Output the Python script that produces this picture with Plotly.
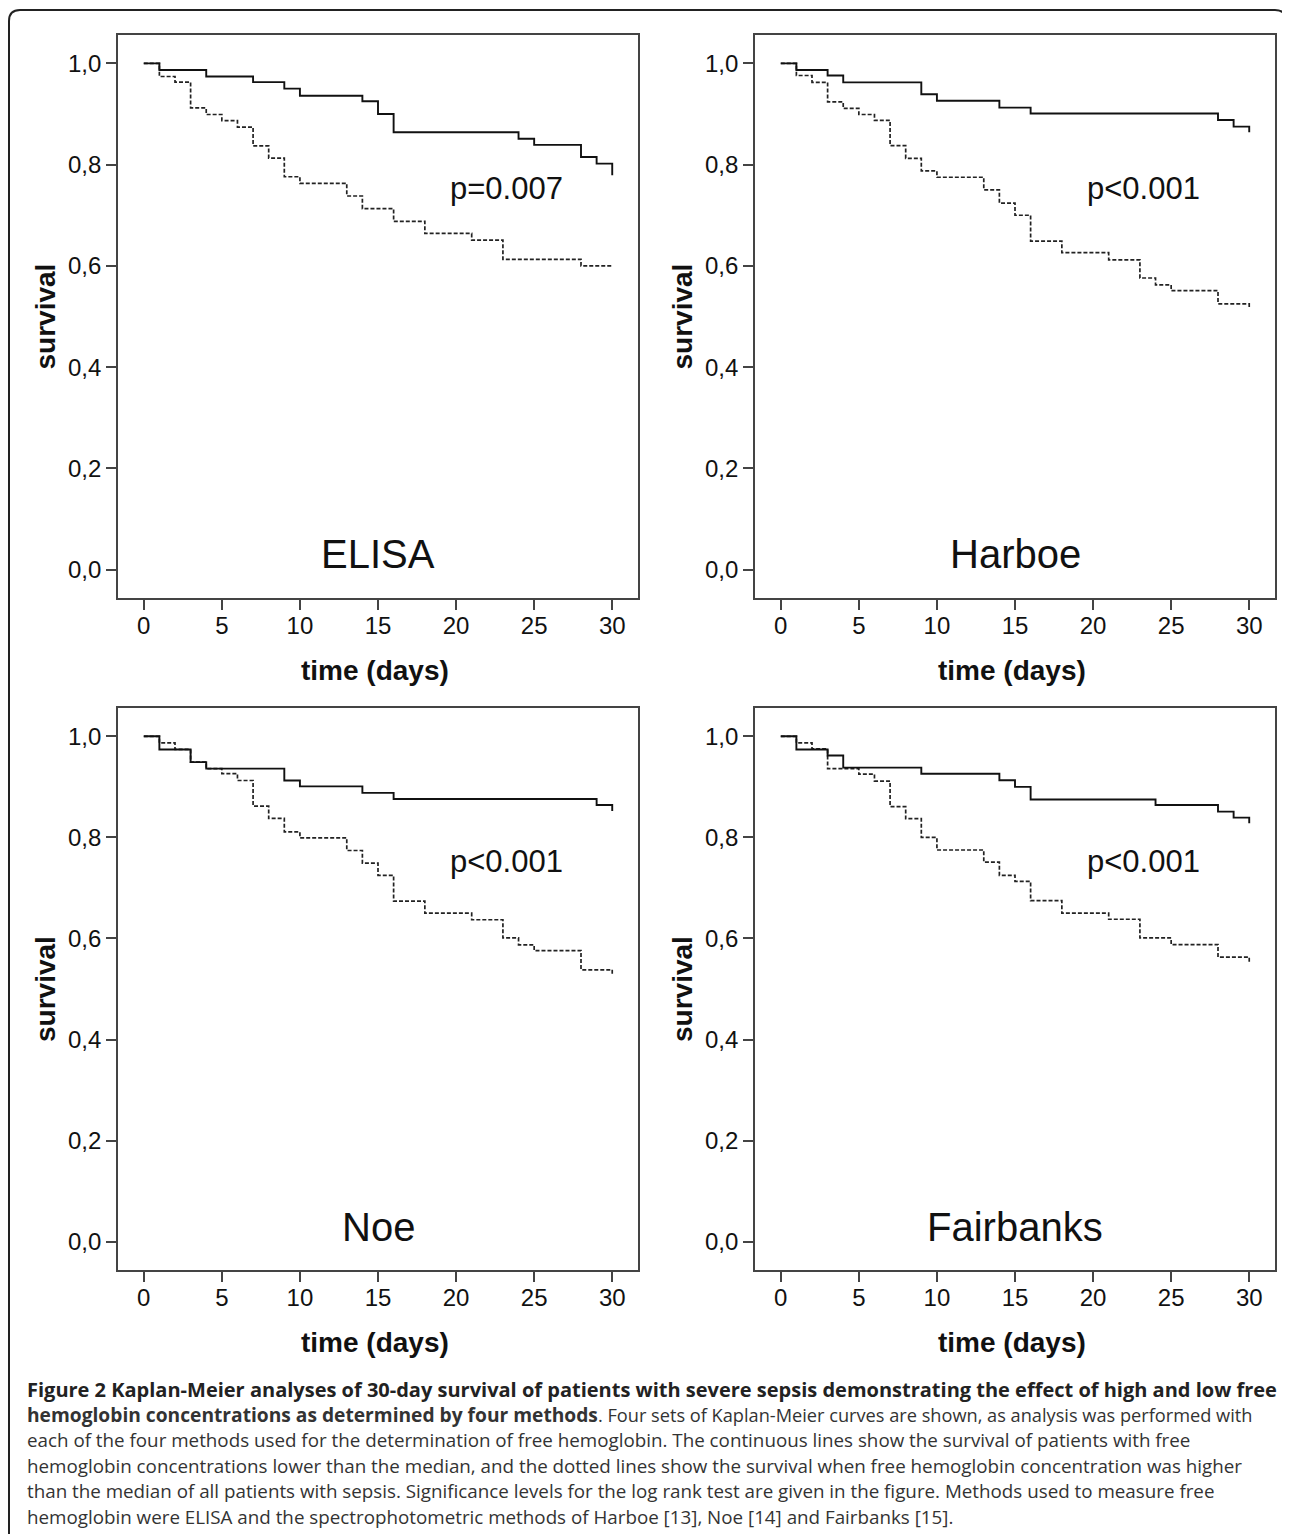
import plotly.graph_objects as go

# page offset introduced by the default HTML body margin
OFF = 8
FW, FH = 1290 - OFF, 1534 - OFF

# ---------------- data ----------------
methods = ["ELISA", "Harboe", "Noe", "Fairbanks"]
p_values = ["p=0.007", "p<0.001", "p<0.001", "p<0.001"]

elisa_low_t = [0, 1, 4, 7, 9, 10, 14, 15, 16, 24, 25, 28, 29, 30]
elisa_low_s = [1.0, 0.987, 0.974, 0.963, 0.950, 0.936, 0.925, 0.900, 0.864, 0.851, 0.839, 0.815, 0.802, 0.779]
elisa_high_t = [0, 1, 2, 3, 4, 5, 6, 7, 8, 9, 10, 13, 14, 16, 18, 21, 23, 28, 30]
elisa_high_s = [1.0, 0.974, 0.963, 0.912, 0.899, 0.887, 0.874, 0.837, 0.813, 0.776, 0.763, 0.738, 0.713, 0.688, 0.664, 0.651, 0.613, 0.600, 0.600]

harboe_low_t = [0, 1, 3, 4, 9, 10, 14, 16, 28, 29, 30]
harboe_low_s = [1.0, 0.987, 0.976, 0.9625, 0.939, 0.926, 0.9125, 0.901, 0.888, 0.875, 0.864]
harboe_high_t = [0, 1, 2, 3, 4, 5, 6, 7, 8, 9, 10, 13, 14, 15, 16, 18, 21, 23, 24, 25, 28, 30]
harboe_high_s = [1.0, 0.976, 0.9625, 0.924, 0.911, 0.899, 0.8875, 0.8375, 0.8125, 0.7875, 0.775, 0.750, 0.724, 0.700, 0.649, 0.626, 0.612, 0.576, 0.5625, 0.551, 0.525, 0.515]

noe_low_t = [0, 1, 3, 4, 9, 10, 14, 16, 29, 30]
noe_low_s = [1.0, 0.974, 0.949, 0.936, 0.9125, 0.901, 0.888, 0.876, 0.864, 0.852]
noe_high_t = [0, 1, 2, 3, 4, 5, 6, 7, 8, 9, 10, 13, 14, 15, 16, 18, 21, 23, 24, 25, 28, 30]
noe_high_s = [1.0, 0.987, 0.974, 0.949, 0.936, 0.926, 0.9125, 0.862, 0.8375, 0.811, 0.799, 0.774, 0.749, 0.725, 0.674, 0.650, 0.637, 0.601, 0.5875, 0.576, 0.538, 0.526]

fair_low_t = [0, 1, 3, 4, 9, 14, 15, 16, 24, 28, 29, 30]
fair_low_s = [1.0, 0.974, 0.962, 0.938, 0.926, 0.913, 0.900, 0.875, 0.864, 0.851, 0.839, 0.828]
fair_high_t = [0, 1, 2, 3, 5, 6, 7, 8, 9, 10, 13, 14, 15, 16, 18, 21, 23, 25, 28, 30]
fair_high_s = [1.0, 0.987, 0.975, 0.936, 0.925, 0.9115, 0.861, 0.837, 0.800, 0.775, 0.751, 0.725, 0.713, 0.675, 0.650, 0.638, 0.601, 0.588, 0.563, 0.552]

x_tick_vals = [0, 5, 10, 15, 20, 25, 30]
x_tick_text = ["0", "5", "10", "15", "20", "25", "30"]
y_tick_vals = [0.0, 0.2, 0.4, 0.6, 0.8, 1.0]
y_tick_text = ["0,0", "0,2", "0,4", "0,6", "0,8", "1,0"]

caption_lines = [
    '<span style="font-size:20px"><b>Figure 2 Kaplan-Meier analyses of 30-day survival of patients with severe sepsis demonstrating the effect of high and low free</b></span>',
    '<span style="font-size:19.2px"><b>hemoglobin concentrations as determined by four methods</b></span><span style="font-size:18.2px">. Four sets of Kaplan-Meier curves are shown, as analysis was performed with</span>',
    "each of the four methods used for the determination of free hemoglobin. The continuous lines show the survival of patients with free",
    "hemoglobin concentrations lower than the median, and the dotted lines show the survival when free hemoglobin concentration was higher",
    "than the median of all patients with sepsis. Significance levels for the log rank test are given in the figure. Methods used to measure free",
    "hemoglobin were ELISA and the spectrophotometric methods of Harboe [13], Noe [14] and Fairbanks [15].",
]

series = [
    (elisa_low_t, elisa_low_s, elisa_high_t, elisa_high_s),
    (harboe_low_t, harboe_low_s, harboe_high_t, harboe_high_s),
    (noe_low_t, noe_low_s, noe_high_t, noe_high_s),
    (fair_low_t, fair_low_s, fair_high_t, fair_high_s),
]

# ---------------- layout geometry (page pixels) ----------------
def px(x):
    return (x - OFF) / FW

def py(y):
    return 1 - (y - OFF) / FH

col_px = [(118, 638), (755, 1275)]
row_px = [(35, 598), (708, 1270)]

FONT = "Liberation Sans, Arial, sans-serif"
AXC = "#444"
fig = go.Figure()

layout = dict(
    width=FW, height=FH, margin=dict(l=0, r=0, t=0, b=0),
    paper_bgcolor="white", plot_bgcolor="white", showlegend=False,
    font=dict(family=FONT, color="#111"),
)

annotations = []
for i in range(4):
    r, c = divmod(i, 2)
    n = i + 1
    xa = "x" if n == 1 else f"x{n}"
    ya = "y" if n == 1 else f"y{n}"
    lt, ls, ht, hs = series[i]
    fig.add_trace(go.Scatter(x=ht, y=hs, mode="lines", line_shape="hv",
                             line=dict(color="#222", width=1.7, dash="4px,2px"),
                             xaxis=xa, yaxis=ya, hoverinfo="skip"))
    fig.add_trace(go.Scatter(x=lt, y=ls, mode="lines", line_shape="hv",
                             line=dict(color="#111", width=1.9),
                             xaxis=xa, yaxis=ya, hoverinfo="skip"))
    x0, x1 = col_px[c]
    y0, y1 = row_px[r]
    layout["xaxis" if n == 1 else f"xaxis{n}"] = dict(
        domain=[px(x0), px(x1)], range=[-1.65, 31.65], anchor=ya,
        tickvals=x_tick_vals, ticktext=x_tick_text, ticks="outside", ticklen=10,
        tickwidth=1.6, tickcolor=AXC, showline=True, linecolor=AXC, linewidth=1.8,
        mirror=True, showgrid=False, zeroline=False, ticklabelstandoff=-5,
        tickfont=dict(size=24, family=FONT, color="#111"), fixedrange=True,
    )
    layout["yaxis" if n == 1 else f"yaxis{n}"] = dict(
        domain=[py(y1), py(y0)], range=[-0.056, 1.056], anchor=xa,
        tickvals=y_tick_vals, ticktext=y_tick_text, ticks="outside", ticklen=10,
        tickwidth=1.6, tickcolor=AXC, showline=True, linecolor=AXC, linewidth=1.8,
        mirror=True, showgrid=False, zeroline=False,
        tickfont=dict(size=24, family=FONT, color="#111"), fixedrange=True,
    )
    annotations.append(dict(text=methods[i], x=15, y=0.03, xref=xa, yref=ya,
                            showarrow=False, xanchor="center", yanchor="middle",
                            font=dict(size=40, family=FONT, color="#111")))
    annotations.append(dict(text=p_values[i], x=23.2, y=0.752,
                            xref=xa, yref=ya, showarrow=False,
                            xanchor="center", yanchor="middle",
                            font=dict(size=31, family=FONT, color="#111")))
    cx = (x0 + x1) / 2 - 3
    annotations.append(dict(text="<b>time (days)</b>", x=px(cx), y=py(y1 + 72),
                            xref="paper", yref="paper", showarrow=False,
                            xanchor="center", yanchor="middle",
                            font=dict(size=28, family=FONT, color="#111")))
    annotations.append(dict(text="<b>survival</b>", x=px(x0 - 73), y=py((y0 + y1) / 2),
                            xref="paper", yref="paper", showarrow=False, textangle=-90,
                            xanchor="center", yanchor="middle",
                            font=dict(size=28, family=FONT, color="#111")))

# caption
cap_y0, cap_dy = 1389, 25.5
for k, line in enumerate(caption_lines):
    annotations.append(dict(text=line, x=px(25), y=py(cap_y0 + k * cap_dy),
                            xref="paper", yref="paper", showarrow=False,
                            xanchor="left", yanchor="middle",
                            font=dict(size=18.8, family="Open Sans, sans-serif",
                                      color="#222" if k == 0 else "#333")))

layout["annotations"] = annotations

# outer rounded frame
fx0, fx1, fy0, rad = 9, 1286, 10, 11
path = (f"M {px(fx0)},{py(1540)} L {px(fx0)},{py(fy0 + rad)} "
        f"Q {px(fx0)},{py(fy0)} {px(fx0 + rad)},{py(fy0)} "
        f"L {px(fx1 - rad)},{py(fy0)} Q {px(fx1)},{py(fy0)} {px(fx1)},{py(fy0 + rad)} "
        f"L {px(fx1)},{py(1540)}")
layout["shapes"] = [dict(type="path", path=path, xref="paper", yref="paper",
                         line=dict(color="#222", width=2))]

fig.update_layout(**layout)
fig.write_html("out.html")
